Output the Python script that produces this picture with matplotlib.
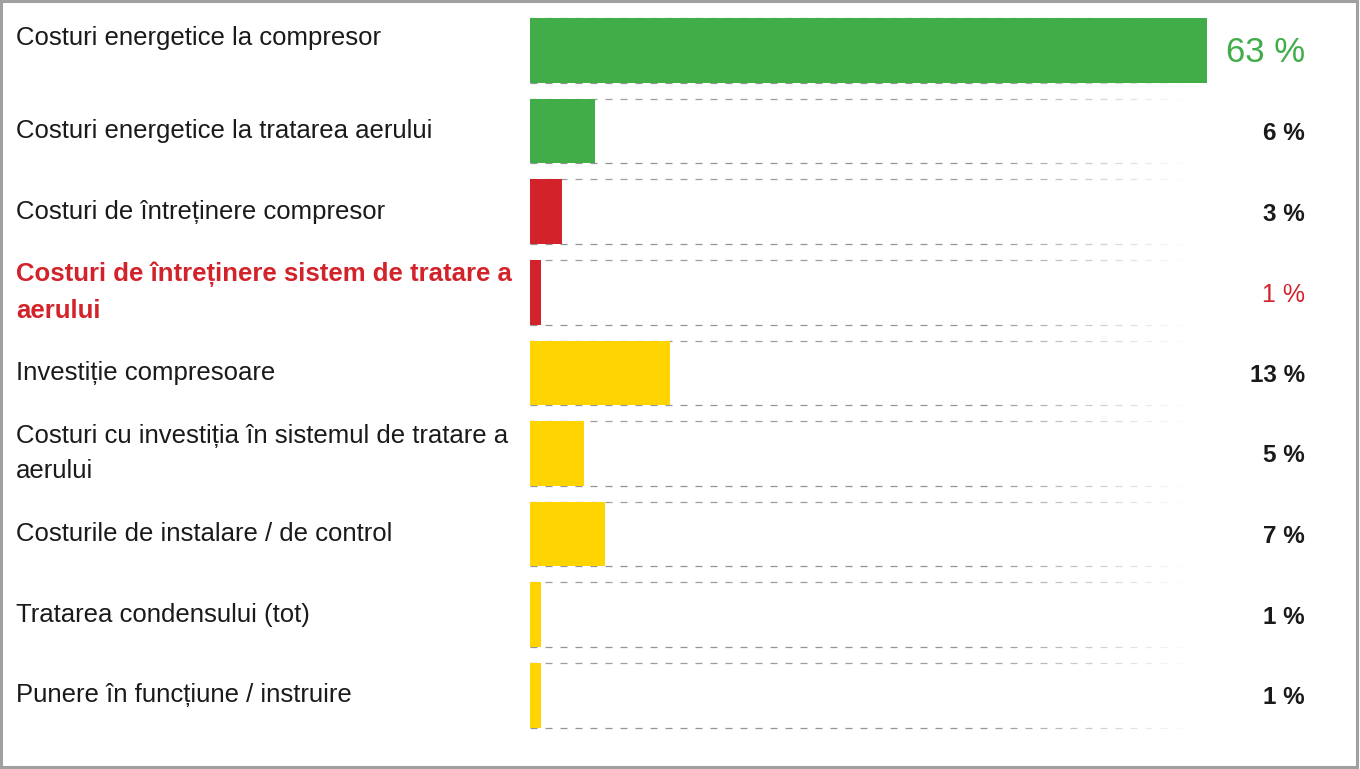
import matplotlib
matplotlib.use("Agg")
import matplotlib.pyplot as plt
from matplotlib.collections import LineCollection
from matplotlib.patches import Rectangle

# ── Data ──
categories = [
    "Costuri energetice la compresor",
    "Costuri energetice la tratarea aerului",
    "Costuri de întreținere compresor",
    "Costuri de întreținere sistem de tratare a\naerului",
    "Investiție compresoare",
    "Costuri cu investiția în sistemul de tratare a\naerului",
    "Costurile de instalare / de control",
    "Tratarea condensului (tot)",
    "Punere în funcțiune / instruire",
]
shares = [63, 6, 3, 1, 13, 5, 7, 1, 1]
groups = ["energie", "energie", "intretinere", "intretinere",
          "investitie", "investitie", "investitie", "investitie", "investitie"]
highlighted = [False, False, False, True, False, False, False, False, False]

GROUP_COLORS = {"energie": "#41ad49", "intretinere": "#d2232a", "investitie": "#ffd400"}
FONT = ["Liberation Sans", "DejaVu Sans"]
TEXT = "#1a1a1a"

W, H = 1360, 769
fig = plt.figure(figsize=(W / 100, H / 100), dpi=100)

# bars start at x=530 px, 10.75 px per percent
px_per_unit = 10.75
x0 = 530
ax = fig.add_axes([x0 / W, 0, (W - x0) / W, 1])
ax.set_xlim(0, (W - x0) / px_per_unit)
row_pitch, first_center = 80.6, 50.5
ax.set_ylim((H - first_center) / row_pitch, -first_center / row_pitch)
ax.axis("off")

rows = list(range(len(categories)))
colors = [GROUP_COLORS[g] for g in groups]
ax.barh(rows, shares, height=0.8, color=colors, zorder=3)

# ── Faded dashed guides at top and bottom of each row ──
dash_len, gap_len = 7 / px_per_unit, 8 / px_per_unit
dash_end = (1185 - x0) / px_per_unit
fade_start = (980 - x0) / px_per_unit
segs, cols = [], []
for r in rows:
    for yy, shade in ((r - 0.4, 0.62), (r + 0.4, 0.58)):
        a = 0.0
        while a < dash_end:
            b = min(a + dash_len, dash_end)
            alpha = 1.0 if a < fade_start else max(0.0, 1 - (a - fade_start) / (dash_end - fade_start))
            segs.append([(a, yy), (b, yy)])
            cols.append((shade, shade, shade, alpha))
            a += dash_len + gap_len
ax.add_collection(LineCollection(segs, colors=cols, linewidths=0.9, zorder=1))

# ── Labels ──
label_tr = ax.get_yaxis_transform()
lx = (16 - x0) / (W - x0)
px = (1305 - x0) / (W - x0)
for r, (cat, val, g, hl) in enumerate(zip(categories, shares, groups, highlighted)):
    y_lab = r - 0.15 if r == 0 else r
    ax.text(lx, y_lab, cat, transform=label_tr, ha="left", va="center",
            fontsize=18.5, family=FONT, linespacing=1.62,
            color=GROUP_COLORS["intretinere"] if hl else TEXT,
            fontweight="bold" if hl else "normal", clip_on=False)

    if r == 0:
        ax.text(px, r + 0.03, f"{val} %", transform=label_tr, ha="right", va="center",
                fontsize=25, family=FONT, color=GROUP_COLORS["energie"], clip_on=False)
    elif hl:
        ax.text(px, r + 0.03, f"{val} %", transform=label_tr, ha="right", va="center",
                fontsize=18, family=FONT, color=GROUP_COLORS["intretinere"], clip_on=False)
    else:
        ax.text(px, r + 0.03, f"{val} %", transform=label_tr, ha="right", va="center",
                fontsize=17.5, family=FONT, fontweight="bold", color=TEXT, clip_on=False)

# ── Frame ──
fig.patches.append(Rectangle((0.001, 0.002), 0.997, 0.997, transform=fig.transFigure,
                             fill=False, edgecolor="#a0a0a0", linewidth=2.2))

fig.savefig("out.png", dpi=100)
